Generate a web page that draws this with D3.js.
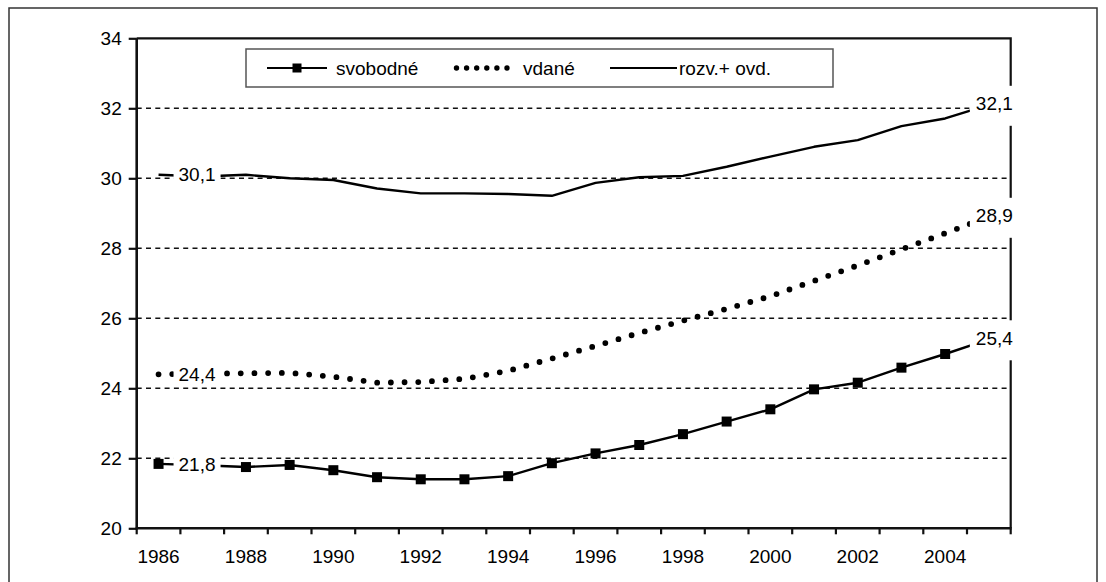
<!DOCTYPE html>
<html>
<head>
<meta charset="utf-8">
<script src="https://cdn.jsdelivr.net/npm/d3@7/dist/d3.min.js"></script>
<style>
  html, body { margin: 0; padding: 0; background: #fff; }
  svg { display: block; font-family: "Liberation Sans", Arial, sans-serif; }
</style>
</head>
<body>
<svg id="chart" width="1106" height="582"></svg>
<script>
// ---- data ----
const years = [1986, 1987, 1988, 1989, 1990, 1991, 1992, 1993, 1994, 1995,
               1996, 1997, 1998, 1999, 2000, 2001, 2002, 2003, 2004, 2005];
const svobodne = [21.84, 21.8, 21.75, 21.81, 21.66, 21.46, 21.40, 21.40, 21.49, 21.86,
                  22.14, 22.38, 22.69, 23.05, 23.40, 23.97, 24.16, 24.59, 24.98, 25.4];
const vdane = [24.4, 24.42, 24.43, 24.44, 24.33, 24.16, 24.18, 24.27, 24.5, 24.85,
               25.21, 25.58, 25.93, 26.27, 26.63, 27.07, 27.51, 27.97, 28.43, 28.9];
const rozv = [30.1, 30.05, 30.1, 30.0, 29.95, 29.71, 29.57, 29.57, 29.55, 29.5,
              29.87, 30.03, 30.07, 30.33, 30.62, 30.9, 31.09, 31.49, 31.71, 32.1];
const seriesNames = ["svobodné", "vdané", "rozv.+ ovd."];
const yTicks = [20, 22, 24, 26, 28, 30, 32, 34];
const xTickLabels = [1986, 1988, 1990, 1992, 1994, 1996, 1998, 2000, 2002, 2004];

// ---- layout ----
const svg = d3.select("#chart");
const plot = { left: 136.7, right: 1010.7, top: 38.3, bottom: 528.3 };
const FONT = 19;

const x = d3.scaleBand().domain(years).range([plot.left, plot.right]).padding(0);
const y = d3.scaleLinear().domain([20, 34]).range([plot.bottom, plot.top]);
const cx = d => x(d) + x.bandwidth() / 2;

// outer frame
svg.append("rect").attr("x", 9).attr("y", 8).attr("width", 1088).attr("height", 620)
  .attr("fill", "none").attr("stroke", "#333").attr("stroke-width", 1.5);

// gridlines
svg.append("g").selectAll("line").data(yTicks.filter(t => t > 20 && t < 34)).join("line")
  .attr("x1", plot.left).attr("x2", plot.right)
  .attr("y1", d => y(d)).attr("y2", d => y(d))
  .attr("stroke", "#111").attr("stroke-width", 1.4).attr("stroke-dasharray", "5,4.3");

// plot border (top & right)
svg.append("path")
  .attr("d", `M${plot.left},${plot.top}H${plot.right}V${plot.bottom}`)
  .attr("fill", "none").attr("stroke", "#111").attr("stroke-width", 2.2);

// y axis
const yAxis = svg.append("g").attr("transform", `translate(${plot.left},0)`)
  .call(d3.axisLeft(y).tickValues(yTicks).tickSize(8).tickPadding(7).tickFormat(d3.format("d")));
yAxis.select(".domain").remove();
yAxis.selectAll(".tick line").attr("stroke", "#111").attr("stroke-width", 2.2);
yAxis.selectAll("text").attr("font-size", FONT).attr("fill", "#000")
  .attr("font-family", "Liberation Sans, Arial, sans-serif");
svg.append("line").attr("x1", plot.left).attr("x2", plot.left)
  .attr("y1", plot.top).attr("y2", plot.bottom + 1)
  .attr("stroke", "#111").attr("stroke-width", 2.6);

// x axis
const xAxis = svg.append("g").attr("transform", `translate(0,${plot.bottom})`)
  .call(d3.axisBottom(x).tickValues(xTickLabels).tickSize(0).tickPadding(21));
xAxis.select(".domain").remove();
xAxis.selectAll("text").attr("font-size", FONT).attr("fill", "#000")
  .attr("font-family", "Liberation Sans, Arial, sans-serif");
const boundaries = years.map(d => x(d)).concat([plot.right]);
svg.append("g").selectAll("line").data(boundaries).join("line")
  .attr("x1", d => d).attr("x2", d => d)
  .attr("y1", plot.bottom).attr("y2", plot.bottom + 6)
  .attr("stroke", "#111").attr("stroke-width", 2.2);
svg.append("line").attr("x1", plot.left - 1).attr("x2", plot.right + 1)
  .attr("y1", plot.bottom).attr("y2", plot.bottom)
  .attr("stroke", "#111").attr("stroke-width", 2.6);

// ---- series ----
const line = vals => d3.line().x((d, i) => cx(years[i])).y(d => y(d))(vals);

svg.append("path").attr("d", line(rozv))
  .attr("fill", "none").attr("stroke", "#000").attr("stroke-width", 2.4)
  .attr("stroke-linejoin", "round");

svg.append("path").attr("d", line(vdane))
  .attr("fill", "none").attr("stroke", "#000").attr("stroke-width", 5.8)
  .attr("stroke-linecap", "round").attr("stroke-dasharray", "0,13.7");

svg.append("path").attr("d", line(svobodne))
  .attr("fill", "none").attr("stroke", "#000").attr("stroke-width", 2.4)
  .attr("stroke-linejoin", "round");
const SQ = 10;
svg.append("g").selectAll("rect").data(svobodne).join("rect")
  .attr("x", (d, i) => cx(years[i]) - SQ / 2).attr("y", d => y(d) - SQ / 2)
  .attr("width", SQ).attr("height", SQ).attr("fill", "#000");

// ---- data labels ----
const fmt = v => d3.format(".1f")(v).replace(".", ",");
const allSeries = [svobodne, vdane, rozv];
const n = years.length;
const labels = svg.append("g");
allSeries.forEach(vals => {
  // first value label
  const x0 = cx(years[0]), y0 = y(vals[0]);
  labels.append("rect").attr("x", x0 + 15).attr("y", y0 - 9)
    .attr("width", 47).attr("height", 18).attr("fill", "#fff");
  labels.append("text").attr("x", x0 + 20).attr("y", y0).attr("dy", "0.35em")
    .attr("font-size", FONT).attr("fill", "#000").text(fmt(vals[0]));
  // last value label
  const x1 = cx(years[n - 1]), y1 = y(vals[n - 1]);
  labels.append("rect").attr("x", x1 - 19).attr("y", y1 - 19)
    .attr("width", 50).attr("height", 40).attr("fill", "#fff");
  labels.append("text").attr("x", x1 - 13).attr("y", y1 - 1).attr("dy", "0.35em")
    .attr("font-size", FONT).attr("fill", "#000").text(fmt(vals[n - 1]));
});

// ---- legend ----
const lg = svg.append("g");
lg.append("rect").attr("x", 246).attr("y", 49).attr("width", 587).attr("height", 38)
  .attr("fill", "#fff").attr("stroke", "#555").attr("stroke-width", 1.5);
const ly = 68;
const items = [
  { x1: 267, x2: 327, tx: 336, type: "square" },
  { x1: 456.5, x2: 517, tx: 523, type: "dots" },
  { x1: 610, x2: 677, tx: 679, type: "line" }
];
items.forEach((it, i) => {
  if (it.type === "dots") {
    lg.append("line").attr("x1", it.x1).attr("x2", it.x2).attr("y1", ly).attr("y2", ly)
      .attr("stroke", "#000").attr("stroke-width", 5.4)
      .attr("stroke-linecap", "round").attr("stroke-dasharray", "0,10.1");
  } else {
    lg.append("line").attr("x1", it.x1).attr("x2", it.x2).attr("y1", ly).attr("y2", ly)
      .attr("stroke", "#000").attr("stroke-width", 2);
    if (it.type === "square") {
      lg.append("rect").attr("x", (it.x1 + it.x2) / 2 - 4.5).attr("y", ly - 4.5)
        .attr("width", 9).attr("height", 9).attr("fill", "#000");
    }
  }
  lg.append("text").attr("x", it.tx).attr("y", ly).attr("dy", "0.35em")
    .attr("font-size", FONT).attr("fill", "#000").text(seriesNames[i]);
});
</script>
</body>
</html>
